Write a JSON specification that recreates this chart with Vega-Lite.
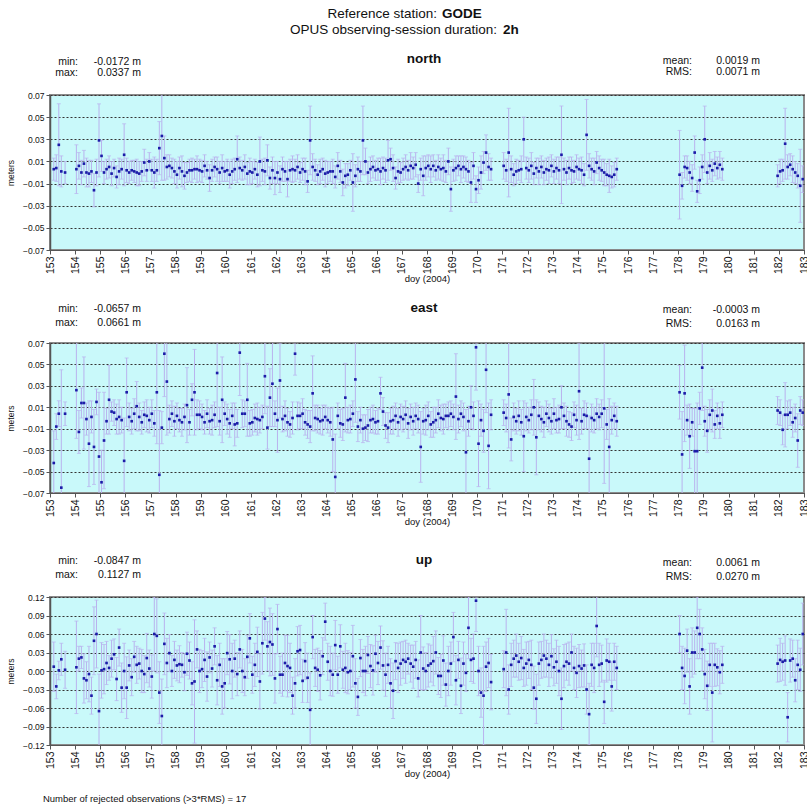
{
"$schema": "https://vega.github.io/schema/vega-lite/v6.json",
"autosize": {"type": "pad"},
"padding": {"left": 5, "top": 5, "right": 0, "bottom": 0},
"background": "white",
"config": {
 "font": "Liberation Sans",
 "view": {"fill": "#c9f9fa", "stroke": "#8a8a8a", "strokeWidth": 2},
 "axis": {"labelFont": "Liberation Sans", "titleFont": "Liberation Sans", "labelColor": "#111", "titleColor": "#111", "titleFontWeight": "normal", "tickColor": "#555", "domainColor": "#555", "tickSize": 4},
 "axisY": {"labelFontSize": 8.5, "titleFontSize": 8.5, "labelPadding": 2, "titlePadding": 6.5, "grid": true, "gridDash": [2, 2], "gridColor": "#333", "gridWidth": 1, "domainWidth": 1.5, "format": ".2f", "labelOverlap": false},
 "axisX": {"labelFontSize": 10.5, "titleFontSize": 9.5, "labelAngle": 270, "labelPadding": 2, "titlePadding": 0, "grid": false, "format": "d", "labelOverlap": false, "labelBound": false}
},
"datasets": {"obs": [
{"t":153.15,"n":0.003,"ns":0.01,"e":-0.042,"es":0.03,"u":0.007,"us":0.04},
{"t":153.25,"n":0.004,"ns":0.012,"e":-0.008,"es":0.012,"u":-0.025,"us":0.02},
{"t":153.35,"n":0.025,"ns":0.037,"e":0.004,"es":0.012,"u":0.001,"us":0.015},
{"t":153.45,"n":0.001,"ns":0.014,"e":-0.065,"es":0.11,"u":0.019,"us":0.026},
{"t":153.6,"n":0.0,"ns":0.01,"e":0.004,"es":0.011,"u":0.002,"us":0.03},
{"t":154.05,"n":0.003,"ns":0.022,"e":0.026,"es":0.045,"u":0.006,"us":0.075},
{"t":154.15,"n":0.006,"ns":0.012,"e":-0.013,"es":0.02,"u":0.02,"us":0.02},
{"t":154.25,"n":0.0,"ns":0.011,"e":0.014,"es":0.014,"u":0.022,"us":0.018},
{"t":154.35,"n":0.008,"ns":0.012,"e":0.014,"es":0.043,"u":-0.012,"us":0.04},
{"t":154.45,"n":0.0,"ns":0.013,"e":-0.001,"es":0.015,"u":-0.015,"us":0.03},
{"t":154.55,"n":-0.001,"ns":0.012,"e":-0.024,"es":0.04,"u":-0.005,"us":0.045},
{"t":154.65,"n":0.001,"ns":0.01,"e":0.001,"es":0.015,"u":-0.04,"us":0.03},
{"t":154.75,"n":-0.016,"ns":0.015,"e":-0.027,"es":0.035,"u":0.049,"us":0.055},
{"t":154.85,"n":0.0,"ns":0.012,"e":0.015,"es":0.012,"u":0.06,"us":0.055},
{"t":154.95,"n":0.029,"ns":0.033,"e":-0.036,"es":0.06,"u":-0.065,"us":0.06},
{"t":155.05,"n":0.015,"ns":0.014,"e":-0.06,"es":0.03,"u":0.001,"us":0.045},
{"t":155.15,"n":0.0,"ns":0.01,"e":-0.021,"es":0.045,"u":0.003,"us":0.04},
{"t":155.25,"n":0.003,"ns":0.009,"e":-0.003,"es":0.012,"u":0.013,"us":0.035},
{"t":155.35,"n":0.005,"ns":0.01,"e":0.017,"es":0.032,"u":0.005,"us":0.02},
{"t":155.45,"n":-0.001,"ns":0.011,"e":0.006,"es":0.009,"u":0.02,"us":0.03},
{"t":155.55,"n":0.004,"ns":0.008,"e":0.005,"es":0.012,"u":0.027,"us":0.025},
{"t":155.65,"n":-0.004,"ns":0.01,"e":-0.001,"es":0.014,"u":-0.013,"us":0.035},
{"t":155.75,"n":0.001,"ns":0.012,"e":0.001,"es":0.016,"u":0.038,"us":0.03},
{"t":155.85,"n":0.003,"ns":0.009,"e":-0.002,"es":0.012,"u":-0.027,"us":0.04},
{"t":155.95,"n":0.016,"ns":0.028,"e":-0.04,"es":0.04,"u":0.0,"us":0.045},
{"t":156.05,"n":0.002,"ns":0.011,"e":0.024,"es":0.032,"u":-0.027,"us":0.05},
{"t":156.15,"n":0.0,"ns":0.01,"e":0.001,"es":0.013,"u":0.009,"us":0.025},
{"t":156.25,"n":0.002,"ns":0.009,"e":-0.003,"es":0.012,"u":-0.01,"us":0.03},
{"t":156.35,"n":0.001,"ns":0.01,"e":0.004,"es":0.014,"u":0.023,"us":0.025},
{"t":156.45,"n":0.0,"ns":0.012,"e":0.011,"es":0.023,"u":0.01,"us":0.03},
{"t":156.55,"n":-0.001,"ns":0.011,"e":0.001,"es":0.013,"u":0.012,"us":0.025},
{"t":156.65,"n":0.001,"ns":0.009,"e":-0.004,"es":0.011,"u":0.0,"us":0.035},
{"t":156.75,"n":0.009,"ns":0.012,"e":0.003,"es":0.012,"u":-0.005,"us":0.03},
{"t":156.85,"n":0.002,"ns":0.01,"e":0.002,"es":0.015,"u":0.021,"us":0.04},
{"t":156.95,"n":0.01,"ns":0.008,"e":-0.002,"es":0.012,"u":0.004,"us":0.03},
{"t":157.05,"n":0.002,"ns":0.01,"e":0.004,"es":0.013,"u":-0.009,"us":0.035},
{"t":157.15,"n":0.0,"ns":0.014,"e":-0.005,"es":0.012,"u":0.06,"us":0.06},
{"t":157.25,"n":0.002,"ns":0.01,"e":0.024,"es":0.048,"u":0.057,"us":0.06},
{"t":157.35,"n":0.022,"ns":0.024,"e":-0.053,"es":0.06,"u":-0.035,"us":0.05},
{"t":157.45,"n":0.033,"ns":0.04,"e":-0.009,"es":0.015,"u":-0.073,"us":0.06},
{"t":157.55,"n":0.013,"ns":0.02,"e":0.06,"es":0.04,"u":0.044,"us":0.05},
{"t":157.65,"n":0.005,"ns":0.011,"e":0.034,"es":0.05,"u":0.013,"us":0.04},
{"t":157.75,"n":0.006,"ns":0.01,"e":-0.001,"es":0.013,"u":0.029,"us":0.03},
{"t":157.85,"n":0.004,"ns":0.009,"e":0.004,"es":0.012,"u":0.0,"us":0.025},
{"t":157.95,"n":0.001,"ns":0.011,"e":-0.003,"es":0.014,"u":0.018,"us":0.03},
{"t":158.05,"n":-0.002,"ns":0.012,"e":0.002,"es":0.012,"u":0.009,"us":0.025},
{"t":158.15,"n":0.004,"ns":0.01,"e":-0.002,"es":0.011,"u":0.011,"us":0.03},
{"t":158.25,"n":0.001,"ns":0.014,"e":-0.004,"es":0.013,"u":0.01,"us":0.02},
{"t":158.35,"n":-0.003,"ns":0.012,"e":0.001,"es":0.012,"u":-0.002,"us":0.03},
{"t":158.45,"n":0.0,"ns":0.009,"e":0.012,"es":0.035,"u":0.028,"us":0.035},
{"t":158.55,"n":0.002,"ns":0.01,"e":-0.004,"es":0.012,"u":0.017,"us":0.03},
{"t":158.65,"n":0.002,"ns":0.011,"e":0.017,"es":0.015,"u":-0.02,"us":0.035},
{"t":158.75,"n":0.003,"ns":0.009,"e":0.024,"es":0.04,"u":-0.017,"us":0.1},
{"t":158.85,"n":0.003,"ns":0.012,"e":0.003,"es":0.014,"u":0.035,"us":0.03},
{"t":158.95,"n":0.002,"ns":0.01,"e":0.003,"es":0.013,"u":0.0,"us":0.035},
{"t":159.05,"n":0.001,"ns":0.01,"e":0.001,"es":0.012,"u":0.003,"us":0.03},
{"t":159.15,"n":0.006,"ns":0.01,"e":-0.004,"es":0.011,"u":0.018,"us":0.035},
{"t":159.25,"n":0.002,"ns":0.008,"e":0.004,"es":0.013,"u":-0.009,"us":0.04},
{"t":159.35,"n":-0.005,"ns":0.012,"e":-0.003,"es":0.012,"u":0.022,"us":0.025},
{"t":159.45,"n":0.002,"ns":0.01,"e":-0.002,"es":0.014,"u":0.004,"us":0.03},
{"t":159.55,"n":0.005,"ns":0.009,"e":0.003,"es":0.012,"u":0.04,"us":0.03},
{"t":159.65,"n":0.003,"ns":0.011,"e":0.042,"es":0.05,"u":-0.015,"us":0.04},
{"t":159.75,"n":0.0,"ns":0.01,"e":-0.003,"es":0.013,"u":0.01,"us":0.035},
{"t":159.85,"n":0.004,"ns":0.012,"e":0.017,"es":0.04,"u":-0.025,"us":0.045},
{"t":159.95,"n":0.001,"ns":0.009,"e":0.004,"es":0.011,"u":-0.02,"us":0.04},
{"t":160.05,"n":0.002,"ns":0.01,"e":-0.001,"es":0.014,"u":0.029,"us":0.035},
{"t":160.15,"n":-0.002,"ns":0.012,"e":-0.005,"es":0.013,"u":0.019,"us":0.04},
{"t":160.25,"n":0.001,"ns":0.011,"e":0.002,"es":0.012,"u":0.0,"us":0.045},
{"t":160.35,"n":0.003,"ns":0.01,"e":-0.006,"es":0.02,"u":0.02,"us":0.03},
{"t":160.45,"n":0.012,"ns":0.021,"e":-0.005,"es":0.013,"u":-0.005,"us":0.035},
{"t":160.55,"n":0.004,"ns":0.01,"e":0.061,"es":0.04,"u":0.035,"us":0.03},
{"t":160.65,"n":0.002,"ns":0.009,"e":0.004,"es":0.013,"u":0.0,"us":0.035},
{"t":160.75,"n":0.005,"ns":0.011,"e":0.004,"es":0.012,"u":-0.01,"us":0.03},
{"t":160.85,"n":-0.001,"ns":0.01,"e":0.017,"es":0.034,"u":0.023,"us":0.035},
{"t":160.95,"n":0.001,"ns":0.012,"e":-0.005,"es":0.012,"u":0.053,"us":0.04},
{"t":161.05,"n":0.0,"ns":0.01,"e":-0.004,"es":0.012,"u":-0.006,"us":0.03},
{"t":161.15,"n":0.003,"ns":0.009,"e":0.0,"es":0.013,"u":0.01,"us":0.035},
{"t":161.25,"n":-0.002,"ns":0.011,"e":-0.001,"es":0.015,"u":0.031,"us":0.04},
{"t":161.35,"n":0.01,"ns":0.022,"e":-0.002,"es":0.012,"u":-0.017,"us":0.045},
{"t":161.45,"n":0.002,"ns":0.01,"e":0.001,"es":0.011,"u":0.045,"us":0.05},
{"t":161.55,"n":0.001,"ns":0.012,"e":0.039,"es":0.035,"u":0.085,"us":0.035},
{"t":161.65,"n":0.011,"ns":0.014,"e":-0.009,"es":0.02,"u":0.04,"us":0.04},
{"t":161.75,"n":-0.005,"ns":0.01,"e":0.019,"es":0.027,"u":0.047,"us":0.055},
{"t":161.85,"n":0.002,"ns":0.012,"e":0.032,"es":0.04,"u":0.043,"us":0.05},
{"t":161.95,"n":-0.005,"ns":0.015,"e":0.004,"es":0.012,"u":-0.012,"us":0.04},
{"t":162.05,"n":0.0,"ns":0.01,"e":-0.002,"es":0.03,"u":0.068,"us":0.04},
{"t":162.15,"n":-0.006,"ns":0.012,"e":0.035,"es":0.035,"u":-0.006,"us":0.03},
{"t":162.25,"n":0.003,"ns":0.011,"e":-0.001,"es":0.012,"u":-0.006,"us":0.035},
{"t":162.35,"n":0.001,"ns":0.009,"e":0.002,"es":0.014,"u":0.013,"us":0.045},
{"t":162.45,"n":-0.006,"ns":0.016,"e":-0.004,"es":0.013,"u":0.008,"us":0.05},
{"t":162.55,"n":0.002,"ns":0.01,"e":-0.006,"es":0.012,"u":0.005,"us":0.04},
{"t":162.65,"n":0.003,"ns":0.012,"e":0.0,"es":0.015,"u":-0.04,"us":0.03},
{"t":162.75,"n":0.002,"ns":0.01,"e":0.06,"es":0.02,"u":-0.02,"us":0.04},
{"t":162.85,"n":0.005,"ns":0.011,"e":0.002,"es":0.013,"u":0.032,"us":0.04},
{"t":162.95,"n":0.0,"ns":0.009,"e":0.002,"es":0.012,"u":0.034,"us":0.04},
{"t":163.05,"n":0.003,"ns":0.01,"e":0.004,"es":0.014,"u":-0.016,"us":0.035},
{"t":163.15,"n":0.001,"ns":0.012,"e":-0.004,"es":0.012,"u":0.016,"us":0.03},
{"t":163.25,"n":-0.008,"ns":0.01,"e":-0.006,"es":0.013,"u":-0.011,"us":0.04},
{"t":163.35,"n":0.029,"ns":0.031,"e":-0.008,"es":0.015,"u":-0.063,"us":0.06},
{"t":163.45,"n":0.005,"ns":0.012,"e":0.023,"es":0.035,"u":0.055,"us":0.035},
{"t":163.55,"n":0.002,"ns":0.01,"e":0.0,"es":0.012,"u":0.005,"us":0.03},
{"t":163.65,"n":-0.002,"ns":0.009,"e":-0.001,"es":0.013,"u":0.002,"us":0.035},
{"t":163.75,"n":0.001,"ns":0.011,"e":-0.003,"es":0.012,"u":-0.007,"us":0.04},
{"t":163.85,"n":0.003,"ns":0.01,"e":-0.002,"es":0.014,"u":0.024,"us":0.03},
{"t":163.95,"n":-0.001,"ns":0.012,"e":0.001,"es":0.011,"u":0.08,"us":0.03},
{"t":164.05,"n":0.0,"ns":0.01,"e":-0.002,"es":0.012,"u":0.015,"us":0.03},
{"t":164.15,"n":0.001,"ns":0.009,"e":-0.004,"es":0.013,"u":0.0,"us":0.04},
{"t":164.25,"n":0.001,"ns":0.011,"e":-0.02,"es":0.03,"u":-0.006,"us":0.035},
{"t":164.35,"n":-0.004,"ns":0.01,"e":-0.055,"es":0.04,"u":0.042,"us":0.04},
{"t":164.45,"n":0.006,"ns":0.012,"e":0.002,"es":0.012,"u":-0.006,"us":0.03},
{"t":164.55,"n":0.001,"ns":0.01,"e":-0.005,"es":0.013,"u":0.04,"us":0.035},
{"t":164.65,"n":-0.009,"ns":0.012,"e":-0.006,"es":0.015,"u":0.002,"us":0.03},
{"t":164.75,"n":-0.003,"ns":0.011,"e":0.019,"es":0.032,"u":0.005,"us":0.04},
{"t":164.85,"n":-0.002,"ns":0.01,"e":-0.002,"es":0.012,"u":-0.002,"us":0.035},
{"t":164.95,"n":0.002,"ns":0.009,"e":-0.001,"es":0.013,"u":0.0,"us":0.03},
{"t":165.05,"n":-0.009,"ns":0.026,"e":0.004,"es":0.012,"u":0.024,"us":0.05},
{"t":165.15,"n":-0.003,"ns":0.01,"e":0.036,"es":0.04,"u":-0.02,"us":0.04},
{"t":165.25,"n":0.003,"ns":0.011,"e":-0.008,"es":0.014,"u":-0.042,"us":0.03},
{"t":165.35,"n":0.001,"ns":0.009,"e":-0.002,"es":0.012,"u":0.021,"us":0.03},
{"t":165.45,"n":0.029,"ns":0.031,"e":-0.01,"es":0.013,"u":0.0,"us":0.035},
{"t":165.55,"n":0.01,"ns":0.012,"e":-0.009,"es":0.012,"u":0.0,"us":0.04},
{"t":165.65,"n":0.0,"ns":0.01,"e":-0.007,"es":0.015,"u":0.026,"us":0.03},
{"t":165.75,"n":0.003,"ns":0.011,"e":-0.002,"es":0.012,"u":0.008,"us":0.035},
{"t":165.85,"n":0.005,"ns":0.01,"e":-0.001,"es":0.013,"u":0.001,"us":0.04},
{"t":165.95,"n":0.002,"ns":0.009,"e":-0.004,"es":0.011,"u":0.028,"us":0.03},
{"t":166.05,"n":0.003,"ns":0.01,"e":-0.003,"es":0.012,"u":0.013,"us":0.035},
{"t":166.15,"n":0.001,"ns":0.012,"e":0.023,"es":0.015,"u":0.038,"us":0.035},
{"t":166.25,"n":0.004,"ns":0.01,"e":0.006,"es":0.013,"u":0.009,"us":0.04},
{"t":166.35,"n":0.002,"ns":0.011,"e":-0.007,"es":0.012,"u":-0.006,"us":0.035},
{"t":166.45,"n":0.011,"ns":0.018,"e":-0.009,"es":0.014,"u":0.01,"us":0.03},
{"t":166.55,"n":0.012,"ns":0.01,"e":-0.003,"es":0.012,"u":-0.02,"us":0.04},
{"t":166.65,"n":0.004,"ns":0.012,"e":-0.002,"es":0.013,"u":-0.032,"us":0.045},
{"t":166.75,"n":-0.005,"ns":0.01,"e":0.002,"es":0.012,"u":0.016,"us":0.03},
{"t":166.85,"n":0.001,"ns":0.011,"e":-0.004,"es":0.013,"u":0.005,"us":0.04},
{"t":166.95,"n":0.0,"ns":0.009,"e":0.001,"es":0.012,"u":0.012,"us":0.035},
{"t":167.05,"n":0.003,"ns":0.01,"e":-0.001,"es":0.012,"u":0.018,"us":0.03},
{"t":167.15,"n":0.005,"ns":0.011,"e":0.003,"es":0.013,"u":0.015,"us":0.035},
{"t":167.25,"n":0.002,"ns":0.009,"e":-0.005,"es":0.014,"u":0.02,"us":0.025},
{"t":167.35,"n":0.006,"ns":0.012,"e":0.001,"es":0.012,"u":0.012,"us":0.03},
{"t":167.45,"n":0.004,"ns":0.01,"e":-0.003,"es":0.013,"u":0.007,"us":0.035},
{"t":167.55,"n":0.007,"ns":0.011,"e":0.002,"es":0.012,"u":0.018,"us":0.03},
{"t":167.65,"n":-0.01,"ns":0.008,"e":-0.001,"es":0.013,"u":-0.012,"us":0.03},
{"t":167.75,"n":0.003,"ns":0.01,"e":-0.027,"es":0.033,"u":0.03,"us":0.06},
{"t":167.85,"n":-0.003,"ns":0.018,"e":-0.003,"es":0.012,"u":0.004,"us":0.035},
{"t":167.95,"n":0.004,"ns":0.011,"e":-0.002,"es":0.014,"u":0.0,"us":0.03},
{"t":168.05,"n":0.006,"ns":0.01,"e":0.002,"es":0.013,"u":0.009,"us":0.035},
{"t":168.15,"n":0.003,"ns":0.012,"e":-0.006,"es":0.012,"u":0.012,"us":0.03},
{"t":168.25,"n":0.006,"ns":0.01,"e":-0.004,"es":0.014,"u":0.016,"us":0.04},
{"t":168.35,"n":0.002,"ns":0.009,"e":-0.002,"es":0.012,"u":0.03,"us":0.035},
{"t":168.45,"n":0.005,"ns":0.011,"e":0.004,"es":0.013,"u":-0.008,"us":0.03},
{"t":168.55,"n":0.003,"ns":0.01,"e":0.0,"es":0.012,"u":-0.008,"us":0.035},
{"t":168.65,"n":0.004,"ns":0.012,"e":-0.001,"es":0.014,"u":0.017,"us":0.04},
{"t":168.75,"n":0.001,"ns":0.01,"e":0.002,"es":0.011,"u":-0.022,"us":0.035},
{"t":168.85,"n":0.01,"ns":0.012,"e":0.002,"es":0.013,"u":0.0,"us":0.04},
{"t":168.95,"n":-0.015,"ns":0.02,"e":0.004,"es":0.012,"u":0.012,"us":0.035},
{"t":169.05,"n":0.002,"ns":0.01,"e":0.001,"es":0.012,"u":0.055,"us":0.04},
{"t":169.15,"n":0.004,"ns":0.011,"e":0.02,"es":0.04,"u":-0.015,"us":0.04},
{"t":169.25,"n":0.006,"ns":0.009,"e":-0.001,"es":0.013,"u":0.018,"us":0.03},
{"t":169.35,"n":0.003,"ns":0.012,"e":0.004,"es":0.012,"u":-0.024,"us":0.045},
{"t":169.45,"n":0.005,"ns":0.01,"e":0.001,"es":0.013,"u":0.012,"us":0.035},
{"t":169.55,"n":0.003,"ns":0.011,"e":-0.032,"es":0.04,"u":-0.003,"us":0.03},
{"t":169.65,"n":0.001,"ns":0.01,"e":-0.003,"es":0.014,"u":0.07,"us":0.05},
{"t":169.75,"n":-0.009,"ns":0.018,"e":0.01,"es":0.02,"u":0.018,"us":0.035},
{"t":169.85,"n":0.006,"ns":0.012,"e":0.002,"es":0.013,"u":0.02,"us":0.04},
{"t":169.95,"n":-0.015,"ns":0.012,"e":0.066,"es":0.04,"u":0.114,"us":0.05},
{"t":170.05,"n":-0.007,"ns":0.012,"e":-0.024,"es":0.04,"u":0.0,"us":0.04},
{"t":170.15,"n":0.0,"ns":0.015,"e":-0.002,"es":0.015,"u":-0.035,"us":0.04},
{"t":170.25,"n":0.009,"ns":0.01,"e":-0.012,"es":0.02,"u":-0.04,"us":0.08},
{"t":170.35,"n":0.018,"ns":0.016,"e":0.045,"es":0.04,"u":0.007,"us":0.04},
{"t":170.45,"n":0.005,"ns":0.012,"e":-0.026,"es":0.04,"u":0.013,"us":0.04},
{"t":170.55,"n":0.003,"ns":0.01,"e":0.003,"es":0.014,"u":-0.018,"us":0.045},
{"t":171.05,"n":0.006,"ns":0.012,"e":0.005,"es":0.012,"u":0.003,"us":0.03},
{"t":171.15,"n":0.002,"ns":0.01,"e":0.0,"es":0.013,"u":0.03,"us":0.07},
{"t":171.25,"n":0.018,"ns":0.04,"e":0.022,"es":0.05,"u":-0.03,"us":0.04},
{"t":171.35,"n":0.003,"ns":0.012,"e":-0.02,"es":0.02,"u":0.01,"us":0.035},
{"t":171.45,"n":-0.002,"ns":0.01,"e":0.001,"es":0.013,"u":0.02,"us":0.03},
{"t":171.55,"n":0.001,"ns":0.011,"e":-0.003,"es":0.012,"u":0.025,"us":0.035},
{"t":171.65,"n":0.002,"ns":0.009,"e":0.002,"es":0.014,"u":0.015,"us":0.03},
{"t":171.75,"n":0.003,"ns":0.012,"e":-0.004,"es":0.012,"u":0.021,"us":0.035},
{"t":171.85,"n":0.03,"ns":0.02,"e":-0.017,"es":0.033,"u":0.005,"us":0.03},
{"t":171.95,"n":0.004,"ns":0.01,"e":0.001,"es":0.013,"u":0.012,"us":0.035},
{"t":172.05,"n":0.002,"ns":0.011,"e":-0.002,"es":0.012,"u":0.018,"us":0.03},
{"t":172.15,"n":0.006,"ns":0.012,"e":0.003,"es":0.014,"u":0.01,"us":0.04},
{"t":172.25,"n":-0.001,"ns":0.01,"e":0.01,"es":0.026,"u":-0.027,"us":0.035},
{"t":172.35,"n":0.004,"ns":0.009,"e":-0.018,"es":0.035,"u":-0.045,"us":0.04},
{"t":172.45,"n":0.001,"ns":0.012,"e":0.002,"es":0.013,"u":0.012,"us":0.035},
{"t":172.55,"n":0.005,"ns":0.01,"e":-0.001,"es":0.012,"u":0.018,"us":0.03},
{"t":172.65,"n":0.0,"ns":0.011,"e":-0.004,"es":0.014,"u":0.025,"us":0.035},
{"t":172.75,"n":0.003,"ns":0.01,"e":0.004,"es":0.012,"u":0.02,"us":0.03},
{"t":172.85,"n":0.002,"ns":0.012,"e":0.0,"es":0.013,"u":0.01,"us":0.035},
{"t":172.95,"n":0.006,"ns":0.01,"e":-0.003,"es":0.012,"u":0.024,"us":0.035},
{"t":173.05,"n":0.001,"ns":0.011,"e":0.004,"es":0.014,"u":0.006,"us":0.03},
{"t":173.15,"n":0.004,"ns":0.01,"e":-0.002,"es":0.012,"u":0.015,"us":0.035},
{"t":173.25,"n":0.002,"ns":0.012,"e":-0.001,"es":0.013,"u":0.0,"us":0.04},
{"t":173.35,"n":0.016,"ns":0.044,"e":0.01,"es":0.02,"u":-0.045,"us":0.05},
{"t":173.45,"n":0.003,"ns":0.01,"e":0.002,"es":0.012,"u":0.008,"us":0.035},
{"t":173.55,"n":0.0,"ns":0.011,"e":-0.003,"es":0.014,"u":0.015,"us":0.03},
{"t":173.65,"n":0.004,"ns":0.01,"e":-0.006,"es":0.012,"u":0.012,"us":0.035},
{"t":173.75,"n":0.002,"ns":0.012,"e":-0.008,"es":0.013,"u":0.03,"us":0.03},
{"t":173.85,"n":0.001,"ns":0.01,"e":0.003,"es":0.012,"u":0.005,"us":0.035},
{"t":173.95,"n":0.005,"ns":0.011,"e":-0.002,"es":0.014,"u":-0.003,"us":0.04},
{"t":174.05,"n":0.003,"ns":0.01,"e":0.025,"es":0.045,"u":0.008,"us":0.035},
{"t":174.15,"n":0.002,"ns":0.012,"e":-0.003,"es":0.012,"u":0.004,"us":0.03},
{"t":174.25,"n":-0.002,"ns":0.01,"e":0.003,"es":0.013,"u":0.009,"us":0.035},
{"t":174.35,"n":0.034,"ns":0.032,"e":0.002,"es":0.012,"u":-0.03,"us":0.04},
{"t":174.45,"n":0.006,"ns":0.011,"e":-0.038,"es":0.04,"u":-0.07,"us":0.05},
{"t":174.55,"n":0.003,"ns":0.01,"e":0.0,"es":0.013,"u":0.01,"us":0.035},
{"t":174.65,"n":0.001,"ns":0.012,"e":-0.002,"es":0.012,"u":0.005,"us":0.04},
{"t":174.75,"n":0.009,"ns":0.01,"e":0.004,"es":0.014,"u":0.073,"us":0.05},
{"t":174.85,"n":0.004,"ns":0.011,"e":0.001,"es":0.012,"u":0.01,"us":0.035},
{"t":174.95,"n":0.002,"ns":0.01,"e":0.004,"es":0.013,"u":0.012,"us":0.03},
{"t":175.05,"n":0.0,"ns":0.012,"e":0.009,"es":0.07,"u":-0.05,"us":0.035},
{"t":175.15,"n":-0.002,"ns":0.01,"e":-0.006,"es":0.014,"u":0.017,"us":0.035},
{"t":175.25,"n":-0.003,"ns":0.015,"e":-0.027,"es":0.045,"u":0.015,"us":0.03},
{"t":175.35,"n":-0.004,"ns":0.01,"e":-0.002,"es":0.013,"u":-0.025,"us":0.04},
{"t":175.45,"n":-0.002,"ns":0.011,"e":0.002,"es":0.012,"u":0.015,"us":0.03},
{"t":175.55,"n":0.003,"ns":0.01,"e":-0.003,"es":0.014,"u":0.005,"us":0.035},
{"t":178.05,"n":-0.002,"ns":0.04,"e":0.024,"es":0.025,"u":0.06,"us":0.03},
{"t":178.15,"n":-0.012,"ns":0.012,"e":-0.034,"es":0.04,"u":0.005,"us":0.035},
{"t":178.25,"n":0.005,"ns":0.01,"e":0.023,"es":0.045,"u":-0.008,"us":0.045},
{"t":178.35,"n":0.004,"ns":0.011,"e":-0.002,"es":0.014,"u":0.033,"us":0.035},
{"t":178.45,"n":0.0,"ns":0.01,"e":-0.017,"es":0.03,"u":-0.025,"us":0.045},
{"t":178.55,"n":-0.005,"ns":0.012,"e":-0.004,"es":0.013,"u":0.03,"us":0.04},
{"t":178.65,"n":0.018,"ns":0.015,"e":-0.031,"es":0.04,"u":0.03,"us":0.035},
{"t":178.75,"n":-0.017,"ns":0.01,"e":-0.031,"es":0.045,"u":0.07,"us":0.05},
{"t":178.85,"n":-0.007,"ns":0.012,"e":0.009,"es":0.015,"u":0.06,"us":0.04},
{"t":178.95,"n":0.005,"ns":0.011,"e":0.047,"es":0.04,"u":0.035,"us":0.035},
{"t":179.05,"n":0.03,"ns":0.03,"e":-0.003,"es":0.014,"u":-0.005,"us":0.04},
{"t":179.15,"n":0.0,"ns":0.01,"e":-0.012,"es":0.02,"u":-0.024,"us":0.04},
{"t":179.25,"n":0.006,"ns":0.012,"e":0.003,"es":0.014,"u":0.01,"us":0.035},
{"t":179.35,"n":0.002,"ns":0.01,"e":0.007,"es":0.02,"u":-0.035,"us":0.08},
{"t":179.45,"n":0.008,"ns":0.011,"e":-0.006,"es":0.013,"u":0.01,"us":0.035},
{"t":179.55,"n":0.004,"ns":0.01,"e":0.002,"es":0.012,"u":0.006,"us":0.03},
{"t":179.65,"n":0.007,"ns":0.012,"e":-0.005,"es":0.014,"u":-0.002,"us":0.035},
{"t":179.75,"n":0.003,"ns":0.01,"e":0.003,"es":0.012,"u":0.01,"us":0.03},
{"t":181.95,"n":-0.003,"ns":0.01,"e":0.007,"es":0.013,"u":0.012,"us":0.03},
{"t":182.05,"n":0.001,"ns":0.011,"e":0.005,"es":0.012,"u":0.018,"us":0.035},
{"t":182.15,"n":0.002,"ns":0.01,"e":-0.011,"es":0.014,"u":0.015,"us":0.03},
{"t":182.25,"n":0.026,"ns":0.032,"e":0.003,"es":0.03,"u":0.017,"us":0.04},
{"t":182.35,"n":0.005,"ns":0.011,"e":0.003,"es":0.013,"u":-0.075,"us":0.04},
{"t":182.45,"n":0.007,"ns":0.01,"e":0.005,"es":0.012,"u":0.017,"us":0.035},
{"t":182.55,"n":0.003,"ns":0.012,"e":-0.004,"es":0.014,"u":0.02,"us":0.03},
{"t":182.65,"n":0.0,"ns":0.01,"e":0.0,"es":0.013,"u":-0.015,"us":0.035},
{"t":182.75,"n":-0.003,"ns":0.011,"e":-0.021,"es":0.025,"u":0.01,"us":0.04},
{"t":182.85,"n":-0.012,"ns":0.033,"e":0.007,"es":0.013,"u":0.002,"us":0.035},
{"t":182.95,"n":-0.006,"ns":0.012,"e":0.005,"es":0.012,"u":0.06,"us":0.05}
]},
"spacing": 24,
"vconcat": [
{"bounds": "flush", "spacing": 93, "vconcat": [
{
 "width": 754, "height": 155,
 "layer": [
  {"data": {"name": "obs"},
   "mark": {"type": "errorbar", "ticks": {"size": 4, "color": "#b9b2ee", "thickness": 1}, "rule": {"color": "#b9b2ee", "strokeWidth": 1}, "clip": true},
   "encoding": {
    "x": {"field": "t", "type": "quantitative", "scale": {"domain": [153, 183], "nice": false, "zero": false}, "axis": {"title": "doy (2004)", "tickCount": 60, "labelOverlap": false, "values": [153,154,155,156,157,158,159,160,161,162,163,164,165,166,167,168,169,170,171,172,173,174,175,176,177,178,179,180,181,182,183]}},
    "y": {"field": "n", "type": "quantitative", "scale": {"domain": [-0.07, 0.07], "nice": false, "zero": false}, "axis": {"title": "meters", "tickCount": 30, "labelOverlap": false, "values": [-0.07,-0.05,-0.03,-0.01,0.01,0.03,0.05,0.07]}},
    "yError": {"field": "ns"}}},
  {"data": {"name": "obs"},
   "mark": {"type": "point", "filled": true, "shape": "square", "size": 7, "color": "#1c1ca8", "opacity": 1, "clip": true},
   "encoding": {
    "x": {"field": "t", "type": "quantitative", "axis": {"title": "doy (2004)", "tickCount": 60, "labelOverlap": false, "values": [153,154,155,156,157,158,159,160,161,162,163,164,165,166,167,168,169,170,171,172,173,174,175,176,177,178,179,180,181,182,183]}},
    "y": {"field": "n", "type": "quantitative", "axis": {"title": "meters", "tickCount": 30, "labelOverlap": false, "values": [-0.07,-0.05,-0.03,-0.01,0.01,0.03,0.05,0.07]}}}},
  {"data": {"values": [{}]}, "mark": {"type": "text", "align": "right", "baseline": "middle", "fontSize": 13.5, "color": "#111"},
   "encoding": {"x": {"datum": 168.398, "type": "quantitative"}, "y": {"datum": 0.1432, "type": "quantitative"}, "text": {"value": "Reference station:"}}},
  {"data": {"values": [{}]}, "mark": {"type": "text", "align": "left", "baseline": "middle", "fontSize": 13.5, "fontWeight": "bold", "color": "#111", "dx": 3},
   "encoding": {"x": {"datum": 168.478, "type": "quantitative"}, "y": {"datum": 0.1432, "type": "quantitative"}, "text": {"value": "GODE"}}},
  {"data": {"values": [{}]}, "mark": {"type": "text", "align": "right", "baseline": "middle", "fontSize": 13.5, "color": "#111"},
   "encoding": {"x": {"datum": 170.785, "type": "quantitative"}, "y": {"datum": 0.1287, "type": "quantitative"}, "text": {"value": "OPUS observing-session duration:"}}},
  {"data": {"values": [{}]}, "mark": {"type": "text", "align": "left", "baseline": "middle", "fontSize": 13.5, "fontWeight": "bold", "color": "#111", "dx": 2},
   "encoding": {"x": {"datum": 170.944, "type": "quantitative"}, "y": {"datum": 0.1287, "type": "quantitative"}, "text": {"value": "2h"}}},
  {"data": {"values": [{}]}, "mark": {"type": "text", "align": "center", "baseline": "middle", "fontSize": 13.5, "fontWeight": "bold", "color": "#111"},
   "encoding": {"x": {"datum": 167.88, "type": "quantitative"}, "y": {"datum": 0.1025, "type": "quantitative"}, "text": {"value": "north"}}},
  {"data": {"values": [{}]}, "mark": {"type": "text", "align": "right", "baseline": "middle", "fontSize": 10.5, "lineHeight": 11, "color": "#111"},
   "encoding": {"x": {"datum": 154.114, "type": "quantitative"}, "y": {"datum": 0.0998, "type": "quantitative"}, "text": {"value": ["min:", "max:"]}}},
  {"data": {"values": [{}]}, "mark": {"type": "text", "align": "right", "baseline": "middle", "fontSize": 10.5, "lineHeight": 11, "color": "#111"},
   "encoding": {"x": {"datum": 156.62, "type": "quantitative"}, "y": {"datum": 0.0998, "type": "quantitative"}, "text": {"value": ["-0.0172 m", "0.0337 m"]}}},
  {"data": {"values": [{}]}, "mark": {"type": "text", "align": "right", "baseline": "middle", "fontSize": 10.5, "lineHeight": 11, "color": "#111"},
   "encoding": {"x": {"datum": 178.544, "type": "quantitative"}, "y": {"datum": 0.1007, "type": "quantitative"}, "text": {"value": ["mean:", "RMS:"]}}},
  {"data": {"values": [{}]}, "mark": {"type": "text", "align": "right", "baseline": "middle", "fontSize": 10.5, "lineHeight": 11, "color": "#111"},
   "encoding": {"x": {"datum": 181.25, "type": "quantitative"}, "y": {"datum": 0.1007, "type": "quantitative"}, "text": {"value": ["0.0019 m", "0.0071 m"]}}}
 ]
},
{
 "width": 754, "height": 150,
 "layer": [
  {"data": {"name": "obs"},
   "mark": {"type": "errorbar", "ticks": {"size": 4, "color": "#b9b2ee", "thickness": 1}, "rule": {"color": "#b9b2ee", "strokeWidth": 1}, "clip": true},
   "encoding": {
    "x": {"field": "t", "type": "quantitative", "scale": {"domain": [153, 183], "nice": false, "zero": false}, "axis": {"title": "doy (2004)", "tickCount": 60, "labelOverlap": false, "values": [153,154,155,156,157,158,159,160,161,162,163,164,165,166,167,168,169,170,171,172,173,174,175,176,177,178,179,180,181,182,183]}},
    "y": {"field": "e", "type": "quantitative", "scale": {"domain": [-0.07, 0.07], "nice": false, "zero": false}, "axis": {"title": "meters", "tickCount": 30, "labelOverlap": false, "values": [-0.07,-0.05,-0.03,-0.01,0.01,0.03,0.05,0.07]}},
    "yError": {"field": "es"}}},
  {"data": {"name": "obs"},
   "mark": {"type": "point", "filled": true, "shape": "square", "size": 7, "color": "#1c1ca8", "opacity": 1, "clip": true},
   "encoding": {
    "x": {"field": "t", "type": "quantitative", "axis": {"title": "doy (2004)", "tickCount": 60, "labelOverlap": false, "values": [153,154,155,156,157,158,159,160,161,162,163,164,165,166,167,168,169,170,171,172,173,174,175,176,177,178,179,180,181,182,183]}},
    "y": {"field": "e", "type": "quantitative", "axis": {"title": "meters", "tickCount": 30, "labelOverlap": false, "values": [-0.07,-0.05,-0.03,-0.01,0.01,0.03,0.05,0.07]}}}},
  {"data": {"values": [{}]}, "mark": {"type": "text", "align": "center", "baseline": "middle", "fontSize": 13.5, "fontWeight": "bold", "color": "#111"},
   "encoding": {"x": {"datum": 167.88, "type": "quantitative"}, "y": {"datum": 0.1027, "type": "quantitative"}, "text": {"value": "east"}}},
  {"data": {"values": [{}]}, "mark": {"type": "text", "align": "right", "baseline": "middle", "fontSize": 10.5, "lineHeight": 14, "color": "#111"},
   "encoding": {"x": {"datum": 154.114, "type": "quantitative"}, "y": {"datum": 0.1017, "type": "quantitative"}, "text": {"value": ["min:", "max:"]}}},
  {"data": {"values": [{}]}, "mark": {"type": "text", "align": "right", "baseline": "middle", "fontSize": 10.5, "lineHeight": 14, "color": "#111"},
   "encoding": {"x": {"datum": 156.62, "type": "quantitative"}, "y": {"datum": 0.1017, "type": "quantitative"}, "text": {"value": ["-0.0657 m", "0.0661 m"]}}},
  {"data": {"values": [{}]}, "mark": {"type": "text", "align": "right", "baseline": "middle", "fontSize": 10.5, "lineHeight": 14, "color": "#111"},
   "encoding": {"x": {"datum": 178.544, "type": "quantitative"}, "y": {"datum": 0.1008, "type": "quantitative"}, "text": {"value": ["mean:", "RMS:"]}}},
  {"data": {"values": [{}]}, "mark": {"type": "text", "align": "right", "baseline": "middle", "fontSize": 10.5, "lineHeight": 14, "color": "#111"},
   "encoding": {"x": {"datum": 181.25, "type": "quantitative"}, "y": {"datum": 0.1008, "type": "quantitative"}, "text": {"value": ["-0.0003 m", "0.0163 m"]}}}
 ]
}
]},
{
 "width": 754, "height": 148,
 "layer": [
  {"data": {"name": "obs"},
   "mark": {"type": "errorbar", "ticks": {"size": 4, "color": "#b9b2ee", "thickness": 1}, "rule": {"color": "#b9b2ee", "strokeWidth": 1}, "clip": true},
   "encoding": {
    "x": {"field": "t", "type": "quantitative", "scale": {"domain": [153, 183], "nice": false, "zero": false}, "axis": {"title": "doy (2004)", "tickCount": 60, "labelOverlap": false, "values": [153,154,155,156,157,158,159,160,161,162,163,164,165,166,167,168,169,170,171,172,173,174,175,176,177,178,179,180,181,182,183]}},
    "y": {"field": "u", "type": "quantitative", "scale": {"domain": [-0.12, 0.12], "nice": false, "zero": false}, "axis": {"title": "meters", "tickCount": 30, "labelOverlap": false, "values": [-0.12,-0.09,-0.06,-0.03,0,0.03,0.06,0.09,0.12]}},
    "yError": {"field": "us"}}},
  {"data": {"name": "obs"},
   "mark": {"type": "point", "filled": true, "shape": "square", "size": 7, "color": "#1c1ca8", "opacity": 1, "clip": true},
   "encoding": {
    "x": {"field": "t", "type": "quantitative", "axis": {"title": "doy (2004)", "tickCount": 60, "labelOverlap": false, "values": [153,154,155,156,157,158,159,160,161,162,163,164,165,166,167,168,169,170,171,172,173,174,175,176,177,178,179,180,181,182,183]}},
    "y": {"field": "u", "type": "quantitative", "axis": {"title": "meters", "tickCount": 30, "labelOverlap": false, "values": [-0.12,-0.09,-0.06,-0.03,0,0.03,0.06,0.09,0.12]}}}},
  {"data": {"values": [{}]}, "mark": {"type": "text", "align": "center", "baseline": "middle", "fontSize": 13.5, "fontWeight": "bold", "color": "#111"},
   "encoding": {"x": {"datum": 167.88, "type": "quantitative"}, "y": {"datum": 0.18, "type": "quantitative"}, "text": {"value": "up"}}},
  {"data": {"values": [{}]}, "mark": {"type": "text", "align": "right", "baseline": "middle", "fontSize": 10.5, "lineHeight": 14, "color": "#111"},
   "encoding": {"x": {"datum": 154.114, "type": "quantitative"}, "y": {"datum": 0.1784, "type": "quantitative"}, "text": {"value": ["min:", "max:"]}}},
  {"data": {"values": [{}]}, "mark": {"type": "text", "align": "right", "baseline": "middle", "fontSize": 10.5, "lineHeight": 14, "color": "#111"},
   "encoding": {"x": {"datum": 156.62, "type": "quantitative"}, "y": {"datum": 0.1784, "type": "quantitative"}, "text": {"value": ["-0.0847 m", "0.1127 m"]}}},
  {"data": {"values": [{}]}, "mark": {"type": "text", "align": "right", "baseline": "middle", "fontSize": 10.5, "lineHeight": 14, "color": "#111"},
   "encoding": {"x": {"datum": 178.544, "type": "quantitative"}, "y": {"datum": 0.1752, "type": "quantitative"}, "text": {"value": ["mean:", "RMS:"]}}},
  {"data": {"values": [{}]}, "mark": {"type": "text", "align": "right", "baseline": "middle", "fontSize": 10.5, "lineHeight": 14, "color": "#111"},
   "encoding": {"x": {"datum": 181.25, "type": "quantitative"}, "y": {"datum": 0.1752, "type": "quantitative"}, "text": {"value": ["0.0061 m", "0.0270 m"]}}},
  {"data": {"values": [{}]}, "mark": {"type": "text", "align": "left", "baseline": "middle", "fontSize": 9.5, "color": "#111"},
   "encoding": {"x": {"datum": 152.72, "type": "quantitative"}, "y": {"datum": -0.2076, "type": "quantitative"}, "text": {"value": "Number of rejected observations (>3*RMS) = 17"}}}
 ]
}
]
}
